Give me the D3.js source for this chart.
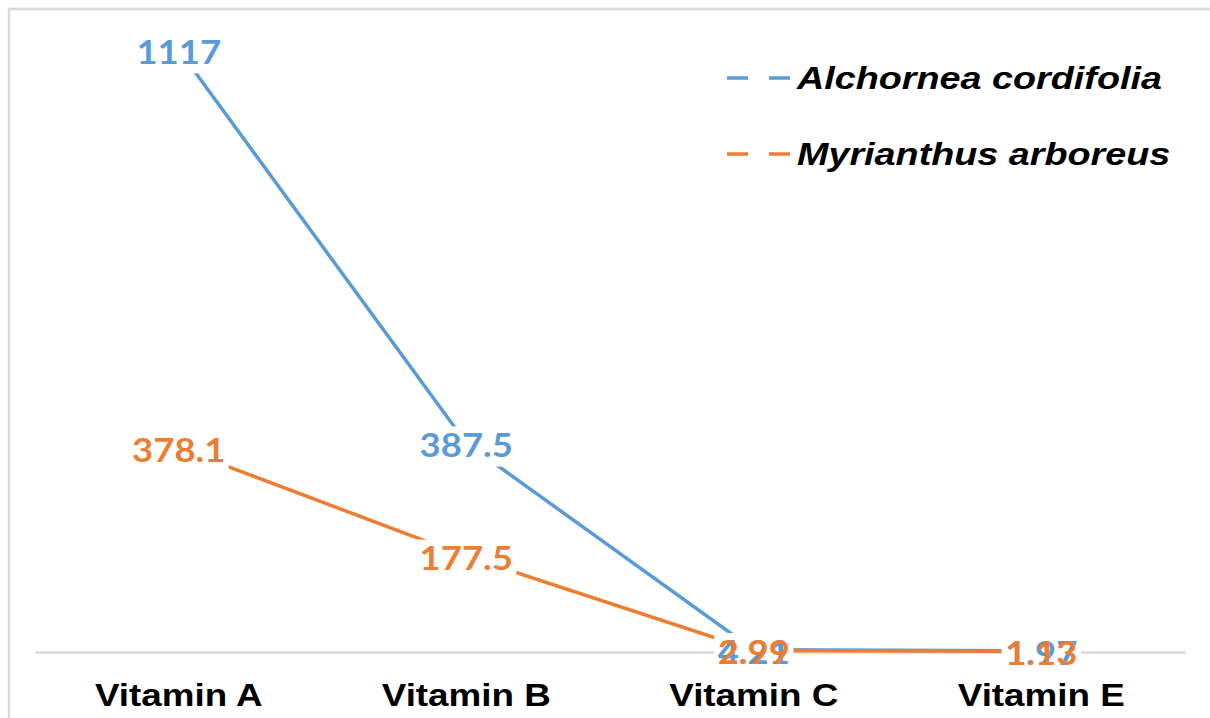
<!DOCTYPE html>
<html>
<head>
<meta charset="utf-8">
<script src="https://cdn.jsdelivr.net/npm/d3@7"></script>
<style>
  body { margin: 0; background: #fff; }
  svg { display: block; }
</style>
</head>
<body>
<div id="chart"></div>
<script>
  const categories = ["Vitamin A", "Vitamin B", "Vitamin C", "Vitamin E"];
  const seriesNames = ["Alchornea cordifolia", "Myrianthus arboreus"];
  const alchornea = [1117, 387.5, 4.21, 1.97];
  const myrianthus = [378.1, 177.5, 2.99, 1.13];
  const colors = ["#5B9BD5", "#ED7D31"];

  let width = 1210,
    height = 718,
    margin = { top: 5, left: 35, right: 25, bottom: 66 };

  let svg = d3.select("#chart")
    .append("svg")
    .attr("width", width)
    .attr("height", height);

  // chart frame
  svg.append("rect")
    .attr("x", 9)
    .attr("y", 9)
    .attr("width", width + 20)
    .attr("height", height + 20)
    .attr("fill", "none")
    .attr("stroke", "#d9d9d9")
    .attr("stroke-width", 2.5);

  let xScale = d3.scaleBand()
    .domain(categories)
    .range([margin.left, width - margin.right]);

  let yScale = d3.scaleLinear()
    .domain([0, 1200])
    .range([height - margin.bottom, margin.top]);

  let xCenter = c => xScale(c) + xScale.bandwidth() / 2;

  // category axis
  let xAxis = svg.append("g")
    .attr("transform", "translate(0," + yScale(0) + ")")
    .call(d3.axisBottom(xScale).tickSize(0).tickPadding(0));

  xAxis.select(".domain")
    .attr("stroke", "#d9d9d9")
    .attr("stroke-width", 2.5);

  xAxis.selectAll(".tick text")
    .attr("font-family", "Arial, 'Liberation Sans', sans-serif")
    .attr("font-weight", "bold")
    .attr("font-size", 32)
    .attr("fill", "#000")
    .attr("dy", 0)
    .attr("y", 54)
    .attr("transform", "scale(1.15,1)");

  let series = seriesNames.map((name, i) => ({
    name: name,
    color: colors[i],
    values: categories.map((c, j) => ({ cat: c, v: [alchornea, myrianthus][i][j] }))
  }));

  let line = d3.line()
    .x(d => xCenter(d.cat))
    .y(d => yScale(d.v));

  svg.append("g")
    .selectAll("path")
    .data(series)
    .enter()
    .append("path")
    .attr("d", d => line(d.values))
    .attr("fill", "none")
    .attr("stroke", d => d.color)
    .attr("stroke-width", 3.5);

  // data labels: white boxes first so every label text stays visible
  let labels = [];
  series.forEach(s => s.values.forEach(d => labels.push({ color: s.color, cat: d.cat, v: d.v })));

  let labelTransform = d => "translate(" + xCenter(d.cat) + "," + (yScale(d.v) + 14) + ") scale(1.14,1)";

  let boxes = svg.append("g");
  let texts = svg.append("g")
    .selectAll("text")
    .data(labels)
    .enter()
    .append("text")
    .attr("transform", labelTransform)
    .attr("text-anchor", "middle")
    .attr("font-family", "Lato, sans-serif")
    .attr("font-weight", "bold")
    .attr("font-size", 32)
    .attr("fill", d => d.color)
    .text(d => d.v);

  texts.each(function (d) {
    let b = this.getBBox();
    boxes.append("rect")
      .attr("transform", labelTransform(d))
      .attr("x", b.x - 3)
      .attr("y", b.y + 1)
      .attr("width", b.width + 6)
      .attr("height", b.height + 2)
      .attr("fill", "#fff");
  });

  // legend
  let legend = svg.append("g")
    .selectAll("g")
    .data(series)
    .enter()
    .append("g")
    .attr("transform", (d, i) => "translate(727," + (78 + i * 76) + ")");

  legend.append("line")
    .attr("x1", 0)
    .attr("x2", 63)
    .attr("stroke", d => d.color)
    .attr("stroke-width", 3.5)
    .attr("stroke-dasharray", "21 21");

  legend.append("text")
    .attr("transform", "translate(70,11) scale(1.18,1)")
    .attr("font-family", "Arial, 'Liberation Sans', sans-serif")
    .attr("font-weight", "bold")
    .attr("font-style", "italic")
    .attr("font-size", 32)
    .attr("fill", "#000")
    .text(d => d.name);
</script>
</body>
</html>
